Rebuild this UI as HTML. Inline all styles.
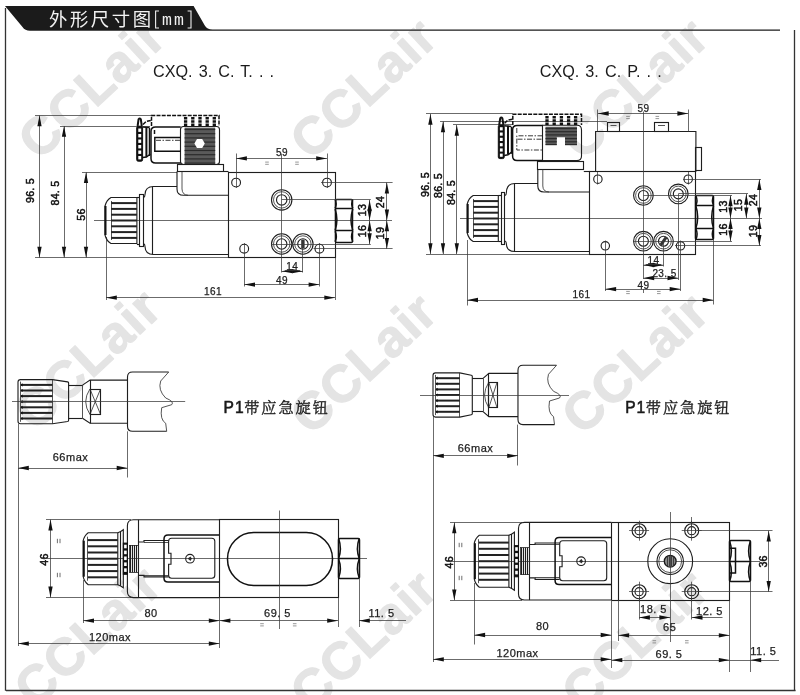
<!DOCTYPE html>
<html lang="zh"><head><meta charset="utf-8"><title>外形尺寸图 [mm]</title>
<style>
html,body{margin:0;padding:0;background:#fff;}
body{width:800px;height:695px;overflow:hidden;font-family:"Liberation Sans",sans-serif;}
svg{display:block;filter:blur(0.35px);}
svg text{font-family:"Liberation Sans",sans-serif;}
.o{fill:none;stroke:#1e1e1e;stroke-width:1.12;}
.k{fill:none;stroke:#111;stroke-width:2;}
.k2{fill:none;stroke:#111;stroke-width:1.5;}
.kk{fill:#111;stroke:#111;stroke-width:1;}
.wf{fill:#fff;stroke:none;}
.sf{fill:#333;stroke:none;}
.n{fill:none;stroke:#2a2a2a;stroke-width:0.8;}
.kt{fill:none;stroke:#222;stroke-width:2;}
.kn{fill:none;stroke:#1a1a1a;stroke-width:1.15;}
.d{fill:none;stroke:#3a3a3a;stroke-width:0.75;}
.e{fill:none;stroke:#4a4a4a;stroke-width:0.8;}
.e2{fill:none;stroke:#6a6a6a;stroke-width:0.7;}
.hf{fill:#8a8a8a;stroke:#1a1a1a;stroke-width:1.3;}
.dd{fill:none;stroke:#222;stroke-width:0.9;stroke-dasharray:5 1.5 1.5 1.5;}
.ds{fill:none;stroke:#111;stroke-width:1.5;stroke-dasharray:4 1.2;}
.rb{fill:none;stroke:#111;stroke-width:3.3;stroke-dasharray:2.4 0.9;}
.gf{fill:#5a5a5a;stroke:none;}
.gl{fill:none;stroke:#2b2b2b;stroke-width:1.2;}
.a{fill:#111;stroke:none;}
.fr{fill:none;stroke:#333;stroke-width:1.3;}
.hd{fill:#1b1b1b;stroke:none;}
.hm{font-family:"Liberation Mono",monospace;font-size:16.5px;fill:#f0f0f0;letter-spacing:2.2px;}
.hb{fill:none;stroke:#eee;stroke-width:1.1;}
.t{font-size:10px;fill:#222;stroke:#222;stroke-width:0.25;letter-spacing:0.4px;}
.tb{font-size:10.6px;fill:#111;stroke:#111;stroke-width:0.5;letter-spacing:0.3px;}
.lb{font-size:16.2px;fill:#1a1a1a;word-spacing:1.6px;}
.p1{font-size:15.6px;fill:#1a1a1a;stroke:#1a1a1a;stroke-width:0.55;letter-spacing:0.9px;}
.t2{font-size:11px;fill:#222;stroke:#222;stroke-width:0.25;letter-spacing:0.5px;}
.wm{font-size:52.2px;font-weight:bold;fill:#e4e4e4;stroke:#e4e4e4;stroke-width:1.1;stroke-linejoin:round;letter-spacing:1px;}
svg text.hz{font-family:"Liberation Sans","Noto Sans CJK SC",sans-serif;font-size:18.4px;fill:#f2f2f2;letter-spacing:2.6px;}
svg text.cz{font-family:"Liberation Serif","Noto Serif CJK SC",serif;font-size:15.2px;fill:#222;stroke:#222;stroke-width:0.35;letter-spacing:1.95px;}
</style></head><body>
<svg width="800" height="695" viewBox="0 0 800 695">
<text class="wm" x="39" y="161.5" transform="rotate(-43 39 161.5)">CCLair</text>
<text class="wm" x="310.9" y="161.5" transform="rotate(-43 310.9 161.5)">CCLair</text>
<text class="wm" x="582.5" y="161.5" transform="rotate(-43 582.5 161.5)">CCLair</text>
<text class="wm" x="35" y="432.4" transform="rotate(-43 35 432.4)">CCLair</text>
<text class="wm" x="310.9" y="436.4" transform="rotate(-43 310.9 436.4)">CCLair</text>
<text class="wm" x="582.5" y="436.4" transform="rotate(-43 582.5 436.4)">CCLair</text>
<text class="wm" x="35" y="709.5" transform="rotate(-43 35 709.5)">CCLair</text>
<text class="wm" x="310.9" y="713.5" transform="rotate(-43 310.9 713.5)">CCLair</text>
<text class="wm" x="582.5" y="713.5" transform="rotate(-43 582.5 713.5)">CCLair</text>
<path class="hd" d="M5,6 L193.6,6 L204.8,25.6 Q207,29.5 212.5,29.5 L780,29.5 L780,30.8 L30,30.8 Q25,30.8 22.5,27 Z"/>
<line class="fr" x1="5.5" y1="8" x2="5.5" y2="690.7"/>
<line class="fr" x1="5.9" y1="690.5" x2="795.6" y2="690.5"/>
<line class="fr" x1="794.5" y1="30" x2="794.5" y2="690.7"/>
<text class="hz" x="48.9" y="25.8">外形尺寸图</text>
<text x="162" y="24.6" class="hm">mm</text>
<path class="hb" d="M159,11 L155.6,11 L155.6,28 L159,28"/>
<path class="hb" d="M187.6,11 L191,11 L191,28 L187.6,28"/>
<text class="lb" x="153" y="76.6">CXQ. 3. C. T. . .</text>
<text class="lb" x="539.7" y="76.6">CXQ. 3. C. P. . .</text>
<text class="p1" x="223.6" y="412.8">P1</text>
<text class="cz" x="244.2" y="413">带应急旋钮</text>
<text class="p1" x="625.2" y="412.8">P1</text>
<text class="cz" x="645.8" y="413">带应急旋钮</text>
<line class="d" x1="35" y1="115.5" x2="152" y2="115.5"/>
<line class="d" x1="60" y1="126.5" x2="150" y2="126.5"/>
<line class="d" x1="82" y1="172.5" x2="177" y2="172.5"/>
<line class="d" x1="35" y1="257.5" x2="228.5" y2="257.5"/>
<line class="d" x1="39.5" y1="115.5" x2="39.5" y2="257.6"/>
<polygon class="a" points="39.5,115.5 37.35,126.3 41.65,126.3"/>
<polygon class="a" points="39.5,257.6 37.35,246.8 41.65,246.8"/>
<line class="d" x1="64.5" y1="126" x2="64.5" y2="257.6"/>
<polygon class="a" points="64,126 61.85,136.8 66.15,136.8"/>
<polygon class="a" points="64,257.6 61.85,246.8 66.15,246.8"/>
<line class="d" x1="86.5" y1="172.3" x2="86.5" y2="257.6"/>
<polygon class="a" points="86,172.3 83.85,183.1 88.15,183.1"/>
<polygon class="a" points="86,257.6 83.85,246.8 88.15,246.8"/>
<text class="tb" x="34" y="190.5" text-anchor="middle" transform="rotate(-90 34 190.5)">96. 5</text>
<text class="tb" x="59" y="193" text-anchor="middle" transform="rotate(-90 59 193)">84. 5</text>
<text class="tb" x="85" y="214.5" text-anchor="middle" transform="rotate(-90 85 214.5)">56</text>
<line class="d" x1="94" y1="220.5" x2="392" y2="220.5"/>
<line class="d" x1="106.5" y1="237" x2="106.5" y2="300"/>
<line class="d" x1="335.5" y1="258" x2="335.5" y2="300"/>
<line class="d" x1="106" y1="297.5" x2="335.1" y2="297.5"/>
<polygon class="a" points="106,297.7 116.8,295.55 116.8,299.85"/>
<polygon class="a" points="335.1,297.7 324.3,295.55 324.3,299.85"/>
<text class="t" x="213" y="294.8" text-anchor="middle">161</text>
<path class="o" d="M111,197.5 L136.9,197.5 L136.9,243.5 L111,243.5 Q106.5,241.0 105,235.0 L105,206.0 Q106.5,200.0 111,197.5 Z"/>
<line class="k" x1="105.5" y1="206" x2="105.5" y2="235"/>
<line class="kt" x1="111" y1="203.1" x2="136.9" y2="203.1"/>
<line class="kt" x1="111" y1="208.9" x2="136.9" y2="208.9"/>
<line class="kt" x1="111" y1="214.7" x2="136.9" y2="214.7"/>
<line class="kt" x1="111" y1="220.5" x2="136.9" y2="220.5"/>
<line class="kt" x1="111" y1="226.3" x2="136.9" y2="226.3"/>
<line class="kt" x1="111" y1="232.1" x2="136.9" y2="232.1"/>
<line class="kt" x1="111" y1="237.9" x2="136.9" y2="237.9"/>
<line class="n" x1="111.5" y1="201" x2="111.5" y2="240"/>
<rect class="o" x="139.5" y="194.5" width="4" height="52"/>
<line class="o" x1="136.9" y1="197.5" x2="139.8" y2="197.5"/>
<line class="o" x1="136.9" y1="244.5" x2="139.8" y2="244.5"/>
<path class="o" d="M143.5,197.5 Q145,197 145,194.5 Q145.2,186.5 153.5,186.5 L177,186.5"/>
<path class="o" d="M143.5,243.5 Q145,244 145,246.5 Q145.2,254.5 153.5,254.5 L228.5,254.5"/>
<line class="o" x1="152.5" y1="186.5" x2="152.5" y2="254.5"/>
<rect class="o" x="177.5" y="164.5" width="46" height="7"/>
<path class="o" d="M177,171.6 L177,189 Q177,195.3 183.5,195.3 L228.5,195.3"/>
<line class="o" x1="223.5" y1="171.5" x2="228.5" y2="171.5"/>
<path class="n" d="M182,171.6 L182,189 Q182.3,195 188,195.3"/>
<rect class="o" x="180.5" y="126.5" width="39" height="38" rx="3"/>
<rect class="gf" x="184.6" y="127.6" width="30.6" height="36.4"/>
<line class="gl" x1="184.6" y1="129.5" x2="215.2" y2="129.5"/>
<line class="gl" x1="184.6" y1="133.7" x2="215.2" y2="133.7"/>
<line class="gl" x1="184.6" y1="137.9" x2="215.2" y2="137.9"/>
<line class="gl" x1="184.6" y1="142.1" x2="215.2" y2="142.1"/>
<line class="gl" x1="184.6" y1="146.3" x2="215.2" y2="146.3"/>
<line class="gl" x1="184.6" y1="150.5" x2="215.2" y2="150.5"/>
<line class="gl" x1="184.6" y1="154.7" x2="215.2" y2="154.7"/>
<line class="gl" x1="184.6" y1="158.9" x2="215.2" y2="158.9"/>
<line class="gl" x1="184.6" y1="163.1" x2="215.2" y2="163.1"/>
<polygon fill="#fff" stroke="none" points="204.8,143.4 202.2,147.9 197.0,147.9 194.4,143.4 197.0,138.9 202.2,138.9"/>
<path class="k2" d="M180.7,126.9 L155.5,126.9 Q151,126.9 151,131.4 L151,158.6 Q151,163.1 155.5,163.1 L180.7,163.1"/>
<path class="k2" d="M180.7,137.5 L154.8,137.5 L154.8,151.3 L180.7,151.3"/>
<line class="dd" x1="156" y1="140.3" x2="180.7" y2="140.3"/>
<line class="k2" x1="154.5" y1="130" x2="154.5" y2="134"/>
<rect class="kk" x="136.7" y="126.2" width="5.9" height="35" rx="1.5"/>
<rect class="wf" x="138.3" y="128.5" width="2.9" height="3.4"/>
<rect class="wf" x="138.3" y="134" width="2.9" height="3.4"/>
<rect class="wf" x="138.3" y="139.5" width="2.9" height="3.4"/>
<rect class="wf" x="138.3" y="145" width="2.9" height="3.4"/>
<rect class="wf" x="138.3" y="150.5" width="2.9" height="3.4"/>
<rect class="wf" x="138.3" y="156" width="2.9" height="3.4"/>
<path class="k" d="M137.6,126 L138.6,119.2 Q139.7,117.6 140.8,119.2 L141.8,126"/>
<line class="k" x1="146.4" y1="127" x2="146.4" y2="156.8"/>
<line class="k2" x1="149.5" y1="128" x2="149.5" y2="156"/>
<path class="k2" d="M142.6,127 L149.6,127.6"/>
<path class="k2" d="M142.6,157.6 L146.4,157 L150.4,154"/>
<path class="ds" d="M143,124.5 L146,121.5 L150.8,120.5"/>
<path class="ds" d="M151.5,126 L151.5,115.4 L219,115.4 L219,126"/>
<line class="rb" x1="185.6" y1="117" x2="185.6" y2="126"/>
<line class="rb" x1="192.8" y1="117" x2="192.8" y2="126"/>
<line class="rb" x1="200" y1="117" x2="200" y2="126"/>
<line class="rb" x1="207.2" y1="117" x2="207.2" y2="126"/>
<line class="rb" x1="214.3" y1="117" x2="214.3" y2="126"/>
<rect class="o" x="228.5" y="172.5" width="107" height="85"/>
<circle class="o" cx="236.1" cy="182.6" r="4.4"/>
<circle class="o" cx="327" cy="182.6" r="4.4"/>
<circle class="o" cx="244.2" cy="248.7" r="4.4"/>
<circle class="o" cx="319.4" cy="248.7" r="4.4"/>
<circle class="o" cx="281.7" cy="199.9" r="10.2"/>
<circle class="n" cx="281.7" cy="199.9" r="8.2"/>
<circle class="o" cx="281.7" cy="199.9" r="5.2"/>
<circle class="o" cx="281.7" cy="244" r="10.2"/>
<circle class="n" cx="281.7" cy="244" r="8.2"/>
<circle class="o" cx="281.7" cy="244" r="5.2"/>
<circle class="o" cx="302.9" cy="244" r="10.2"/>
<circle class="n" cx="302.9" cy="244" r="8.2"/>
<circle class="o" cx="302.9" cy="244" r="5.2"/>
<rect class="sf" x="301.2" y="239.6" width="3.4" height="8.8"/>
<rect class="k2" x="335.5" y="199.5" width="17" height="43" rx="1.2"/>
<line class="k2" x1="335.1" y1="208.5" x2="352.8" y2="208.5"/>
<line class="k2" x1="335.1" y1="230.5" x2="352.8" y2="230.5"/>
<path class="k2" d="M335.1,199.4 Q337.21200000000005,203.89999999999998 335.1,208.39999999999998"/>
<path class="k2" d="M352.8,199.4 Q350.688,203.89999999999998 352.8,208.39999999999998"/>
<path class="k2" d="M335.1,209.0 Q338.70000000000005,219.8 335.1,230.6"/>
<path class="k2" d="M352.8,209.0 Q349.2,219.8 352.8,230.6"/>
<path class="k2" d="M335.1,231.20000000000002 Q337.54200000000003,236.45 335.1,241.7"/>
<path class="k2" d="M352.8,231.20000000000002 Q350.358,236.45 352.8,241.7"/>
<line class="d" x1="321" y1="182.5" x2="392.6" y2="182.5"/>
<line class="d" x1="281.7" y1="199.5" x2="370.8" y2="199.5"/>
<line class="d" x1="271" y1="244.5" x2="370.8" y2="244.5"/>
<line class="d" x1="313.5" y1="248.5" x2="392.6" y2="248.5"/>
<line class="d" x1="386.5" y1="182.6" x2="386.5" y2="220.4"/>
<polygon class="a" points="386.9,182.6 384.75,193.4 389.05,193.4"/>
<polygon class="a" points="386.9,220.4 384.75,209.6 389.05,209.6"/>
<line class="d" x1="386.5" y1="220.4" x2="386.5" y2="248.7"/>
<polygon class="a" points="386.9,220.4 384.75,231.2 389.05,231.2"/>
<polygon class="a" points="386.9,248.7 384.75,237.9 389.05,237.9"/>
<line class="d" x1="369.5" y1="199.9" x2="369.5" y2="220.4"/>
<polygon class="a" points="369.6,199.9 367.45,210.7 371.75,210.7"/>
<polygon class="a" points="369.6,220.4 367.45,209.6 371.75,209.6"/>
<line class="d" x1="369.5" y1="220.4" x2="369.5" y2="244"/>
<polygon class="a" points="369.6,220.4 367.45,231.2 371.75,231.2"/>
<polygon class="a" points="369.6,244 367.45,233.2 371.75,233.2"/>
<text class="tb" x="384" y="202" text-anchor="middle" transform="rotate(-90 384 202)">24</text>
<text class="tb" x="384" y="233" text-anchor="middle" transform="rotate(-90 384 233)">19</text>
<text class="tb" x="365.8" y="210" text-anchor="middle" transform="rotate(-90 365.8 210)">13</text>
<text class="tb" x="365.8" y="231" text-anchor="middle" transform="rotate(-90 365.8 231)">16</text>
<line class="d" x1="281.5" y1="153.8" x2="281.5" y2="272.5"/>
<line class="d" x1="302.5" y1="244" x2="302.5" y2="272.5"/>
<line class="d" x1="281.7" y1="271.5" x2="302.9" y2="271.5"/>
<polygon class="a" points="281.7,271.2 292.5,269.05 292.5,273.35"/>
<polygon class="a" points="302.9,271.2 292.1,269.05 292.1,273.35"/>
<text class="t" x="292.3" y="269.8" text-anchor="middle">14</text>
<line class="d" x1="285" y1="270.5" x2="300" y2="270.5"/>
<line class="d" x1="244.5" y1="243" x2="244.5" y2="286.5"/>
<line class="d" x1="319.5" y1="243" x2="319.5" y2="286.5"/>
<line class="d" x1="244.2" y1="284.5" x2="319.4" y2="284.5"/>
<polygon class="a" points="244.2,284.6 255,282.45 255,286.75"/>
<polygon class="a" points="319.4,284.6 308.6,282.45 308.6,286.75"/>
<text class="t" x="282" y="283.8" text-anchor="middle">49</text>
<line class="d" x1="236.5" y1="153.5" x2="236.5" y2="188"/>
<line class="d" x1="327.5" y1="153.5" x2="327.5" y2="188"/>
<line class="d" x1="236.1" y1="158.5" x2="327" y2="158.5"/>
<polygon class="a" points="236.1,158.4 246.9,156.25 246.9,160.55"/>
<polygon class="a" points="327,158.4 316.2,156.25 316.2,160.55"/>
<text class="t" x="282" y="156.3" text-anchor="middle">59</text>
<line class="e2" x1="265.2" y1="162.1" x2="268.8" y2="162.1"/>
<line class="e2" x1="265.2" y1="164.3" x2="268.8" y2="164.3"/>
<line class="e2" x1="295.2" y1="162.1" x2="298.8" y2="162.1"/>
<line class="e2" x1="295.2" y1="164.3" x2="298.8" y2="164.3"/>
<line class="d" x1="426" y1="113.5" x2="512.5" y2="113.5"/>
<line class="d" x1="440" y1="121.5" x2="607" y2="121.5"/>
<line class="d" x1="453" y1="124.5" x2="512" y2="124.5"/>
<line class="d" x1="426" y1="254.5" x2="590" y2="254.5"/>
<line class="d" x1="430.5" y1="113.9" x2="430.5" y2="254"/>
<polygon class="a" points="430.4,113.9 428.25,124.7 432.55,124.7"/>
<polygon class="a" points="430.4,254 428.25,243.2 432.55,243.2"/>
<line class="d" x1="443.5" y1="121.5" x2="443.5" y2="254"/>
<polygon class="a" points="443,121.5 440.85,132.3 445.15,132.3"/>
<polygon class="a" points="443,254 440.85,243.2 445.15,243.2"/>
<line class="d" x1="456.5" y1="124.9" x2="456.5" y2="254"/>
<polygon class="a" points="456.8,124.9 454.65,135.7 458.95,135.7"/>
<polygon class="a" points="456.8,254 454.65,243.2 458.95,243.2"/>
<text class="tb" x="428.5" y="184.5" text-anchor="middle" transform="rotate(-90 428.5 184.5)">96. 5</text>
<text class="tb" x="442" y="185.5" text-anchor="middle" transform="rotate(-90 442 185.5)">86. 5</text>
<text class="tb" x="455.3" y="192.5" text-anchor="middle" transform="rotate(-90 455.3 192.5)">84. 5</text>
<line class="d" x1="460" y1="218.5" x2="762" y2="218.5"/>
<line class="d" x1="467.5" y1="240" x2="467.5" y2="305.5"/>
<line class="d" x1="713.5" y1="240" x2="713.5" y2="304.5"/>
<line class="d" x1="467.2" y1="300.5" x2="713.5" y2="300.5"/>
<polygon class="a" points="467.2,300 478,297.85 478,302.15"/>
<polygon class="a" points="713.5,300 702.7,297.85 702.7,302.15"/>
<text class="t" x="581.5" y="297.5" text-anchor="middle">161</text>
<path class="o" d="M473.2,195.5 L498.3,195.5 L498.3,241.5 L473.2,241.5 Q468.7,239.0 467.2,233.0 L467.2,204.0 Q468.7,198.0 473.2,195.5 Z"/>
<line class="k" x1="467.7" y1="204" x2="467.7" y2="233"/>
<line class="kt" x1="473.2" y1="201.1" x2="498.3" y2="201.1"/>
<line class="kt" x1="473.2" y1="206.9" x2="498.3" y2="206.9"/>
<line class="kt" x1="473.2" y1="212.7" x2="498.3" y2="212.7"/>
<line class="kt" x1="473.2" y1="218.5" x2="498.3" y2="218.5"/>
<line class="kt" x1="473.2" y1="224.3" x2="498.3" y2="224.3"/>
<line class="kt" x1="473.2" y1="230.1" x2="498.3" y2="230.1"/>
<line class="kt" x1="473.2" y1="235.9" x2="498.3" y2="235.9"/>
<line class="n" x1="473.5" y1="199" x2="473.5" y2="238"/>
<rect class="o" x="501.5" y="192.5" width="3" height="52"/>
<line class="o" x1="498.3" y1="195.5" x2="501.2" y2="195.5"/>
<line class="o" x1="498.3" y1="241.5" x2="501.2" y2="241.5"/>
<path class="o" d="M504.9,195.5 Q506.4,195 506.4,192.5 Q506.6,183.5 514.8,183.5 L538,183.5"/>
<path class="o" d="M504.9,241 Q506.4,241.5 506.4,244 Q506.6,251.5 514.8,251.5 L589.9,251.5"/>
<line class="o" x1="514.5" y1="183.5" x2="514.5" y2="251.5"/>
<rect class="o" x="537.5" y="161.5" width="46" height="8"/>
<path class="o" d="M537.8,169.6 L537.8,186 Q537.8,192 544,192 L589.9,192"/>
<line class="o" x1="583.8" y1="171.5" x2="589.9" y2="171.5"/>
<path class="n" d="M542.8,169.6 L542.8,186 Q543,191.8 549,192"/>
<path class="o" d="M542.5,125.3 L577,125.3 Q581.5,125.3 581.5,130 L581.5,156 Q581.5,160.6 577,160.6 L542.5,160.6 Z"/>
<path class="gf" d="M545.5,126.8 L577,126.8 L577,144.8 L565,144.8 L565,137.3 L556.8,137.3 L556.8,144.8 L545.5,144.8 Z"/>
<line class="gl" x1="545.5" y1="128.5" x2="577" y2="128.5"/>
<line class="gl" x1="545.5" y1="131.7" x2="577" y2="131.7"/>
<line class="gl" x1="545.5" y1="134.9" x2="577" y2="134.9"/>
<line class="gl" x1="545.5" y1="138.6" x2="556.8" y2="138.6"/>
<line class="gl" x1="565" y1="138.6" x2="577" y2="138.6"/>
<line class="gl" x1="545.5" y1="141.8" x2="556.8" y2="141.8"/>
<line class="gl" x1="565" y1="141.8" x2="577" y2="141.8"/>
<line class="gl" x1="545.5" y1="144.6" x2="556.8" y2="144.6"/>
<line class="gl" x1="565" y1="144.6" x2="577" y2="144.6"/>
<path class="k2" d="M542.5,125.6 L517,125.6 Q512.6,125.6 512.6,130 L512.6,156 Q512.6,160.5 517,160.5 L542.5,160.5"/>
<path class="dd" d="M542.5,135.8 L516.8,135.8 L516.8,150 L542.5,150"/>
<line class="dd" x1="517.5" y1="139.2" x2="542.5" y2="139.2"/>
<line class="dd" x1="516.8" y1="128" x2="516.8" y2="134"/>
<rect class="kk" x="498.3" y="125" width="5.9" height="33.6" rx="1.5"/>
<rect class="wf" x="499.9" y="127.2" width="2.8" height="3.2"/>
<rect class="wf" x="499.9" y="132.5" width="2.8" height="3.2"/>
<rect class="wf" x="499.9" y="137.8" width="2.8" height="3.2"/>
<rect class="wf" x="499.9" y="143.1" width="2.8" height="3.2"/>
<rect class="wf" x="499.9" y="148.4" width="2.8" height="3.2"/>
<rect class="wf" x="499.9" y="153.6" width="2.8" height="3.2"/>
<path class="k" d="M499.2,124.8 L500.2,118.3 Q501.3,116.8 502.4,118.3 L503.4,124.8"/>
<line class="k" x1="508" y1="125.8" x2="508" y2="154.6"/>
<line class="k2" x1="511.5" y1="126.8" x2="511.5" y2="153.8"/>
<path class="k2" d="M504.2,125.8 L511.2,126.4"/>
<path class="k2" d="M504.2,155.4 L508,154.8 L512,151.8"/>
<path class="ds" d="M504.6,123.3 L507.6,120.3 L512.4,119.3"/>
<path class="ds" d="M512.8,125 L512.8,114.3 L581.5,114.3 L581.5,125"/>
<line class="rb" x1="547" y1="116" x2="547" y2="125"/>
<line class="rb" x1="554.2" y1="116" x2="554.2" y2="125"/>
<line class="rb" x1="561.4" y1="116" x2="561.4" y2="125"/>
<line class="rb" x1="568.6" y1="116" x2="568.6" y2="125"/>
<line class="rb" x1="575.6" y1="116" x2="575.6" y2="125"/>
<path class="o" d="M595.6,171.7 L595.6,131.5 L695.9,131.5 L695.9,171.7"/>
<rect class="o" x="607.5" y="122.5" width="12" height="9"/>
<rect class="o" x="654.5" y="122.5" width="14" height="9"/>
<line class="n" x1="610.5" y1="125.5" x2="616.5" y2="125.5"/>
<line class="n" x1="658" y1="125.5" x2="665" y2="125.5"/>
<rect class="o" x="695.5" y="147.5" width="6" height="23"/>
<rect class="o" x="589.5" y="171.5" width="106" height="83"/>
<circle class="o" cx="597.9" cy="179.2" r="4.2"/>
<circle class="o" cx="688.2" cy="179.2" r="4.2"/>
<circle class="o" cx="605.3" cy="245.8" r="4.2"/>
<circle class="o" cx="680.5" cy="245.8" r="4.2"/>
<circle class="o" cx="643.4" cy="195.5" r="9.8"/>
<circle class="n" cx="643.4" cy="195.5" r="7.8"/>
<circle class="o" cx="643.4" cy="195.5" r="5"/>
<circle class="o" cx="678.3" cy="193.9" r="9.8"/>
<circle class="n" cx="678.3" cy="193.9" r="7.8"/>
<circle class="o" cx="678.3" cy="193.9" r="5"/>
<circle class="o" cx="643.4" cy="241.2" r="9.8"/>
<circle class="n" cx="643.4" cy="241.2" r="7.8"/>
<circle class="o" cx="643.4" cy="241.2" r="5"/>
<circle class="o" cx="663.5" cy="241.2" r="9.8"/>
<circle class="n" cx="663.5" cy="241.2" r="7.8"/>
<circle class="o" cx="663.5" cy="241.2" r="5"/>
<g transform="rotate(35 663.5 241.2)">
<rect class="sf" x="662" y="236.6" width="3" height="9.2"/>
</g>
<rect class="k2" x="695.5" y="195.5" width="18" height="44" rx="1.2"/>
<line class="k2" x1="695.9" y1="205.5" x2="713.5" y2="205.5"/>
<line class="k2" x1="695.9" y1="228.5" x2="713.5" y2="228.5"/>
<path class="k2" d="M695.9,196.10000000000002 Q698.0559999999999,200.7 695.9,205.29999999999998"/>
<path class="k2" d="M713.5,196.10000000000002 Q711.344,200.7 713.5,205.29999999999998"/>
<path class="k2" d="M695.9,205.9 Q699.5,217.1 695.9,228.29999999999998"/>
<path class="k2" d="M713.5,205.9 Q709.9,217.1 713.5,228.29999999999998"/>
<path class="k2" d="M695.9,228.9 Q698.3199999999999,234.1 695.9,239.29999999999998"/>
<path class="k2" d="M713.5,228.9 Q711.08,234.1 713.5,239.29999999999998"/>
<line class="d" x1="683" y1="179.5" x2="761" y2="179.5"/>
<line class="d" x1="678.3" y1="193.5" x2="748" y2="193.5"/>
<line class="d" x1="643.4" y1="195.5" x2="732" y2="195.5"/>
<line class="d" x1="634" y1="241.5" x2="732" y2="241.5"/>
<line class="d" x1="675" y1="245.5" x2="761" y2="245.5"/>
<line class="d" x1="759.5" y1="179.2" x2="759.5" y2="218.2"/>
<polygon class="a" points="759.3,179.2 757.15,190 761.45,190"/>
<polygon class="a" points="759.3,218.2 757.15,207.4 761.45,207.4"/>
<line class="d" x1="759.5" y1="218.2" x2="759.5" y2="245.8"/>
<polygon class="a" points="759.3,218.2 757.15,229 761.45,229"/>
<polygon class="a" points="759.3,245.8 757.15,235 761.45,235"/>
<line class="d" x1="746.5" y1="193.9" x2="746.5" y2="218.2"/>
<polygon class="a" points="746.3,193.9 744.15,204.7 748.45,204.7"/>
<polygon class="a" points="746.3,218.2 744.15,207.4 748.45,207.4"/>
<line class="d" x1="730.5" y1="195.5" x2="730.5" y2="218.2"/>
<polygon class="a" points="730.5,195.5 728.35,206.3 732.65,206.3"/>
<polygon class="a" points="730.5,218.2 728.35,207.4 732.65,207.4"/>
<line class="d" x1="730.5" y1="218.2" x2="730.5" y2="241.2"/>
<polygon class="a" points="730.5,218.2 728.35,229 732.65,229"/>
<polygon class="a" points="730.5,241.2 728.35,230.4 732.65,230.4"/>
<text class="tb" x="757" y="200" text-anchor="middle" transform="rotate(-90 757 200)">24</text>
<text class="tb" x="757" y="231" text-anchor="middle" transform="rotate(-90 757 231)">19</text>
<text class="tb" x="742" y="205" text-anchor="middle" transform="rotate(-90 742 205)">15</text>
<text class="tb" x="726.5" y="206.5" text-anchor="middle" transform="rotate(-90 726.5 206.5)">13</text>
<text class="tb" x="726.5" y="229.5" text-anchor="middle" transform="rotate(-90 726.5 229.5)">16</text>
<line class="d" x1="643.5" y1="111.5" x2="643.5" y2="279"/>
<line class="d" x1="643.5" y1="289" x2="643.5" y2="293"/>
<line class="d" x1="663.5" y1="241.2" x2="663.5" y2="266.5"/>
<line class="d" x1="678.5" y1="193.9" x2="678.5" y2="280"/>
<line class="d" x1="643.4" y1="265.5" x2="663.5" y2="265.5"/>
<polygon class="a" points="643.4,265 654.2,262.85 654.2,267.15"/>
<polygon class="a" points="663.5,265 652.7,262.85 652.7,267.15"/>
<text class="t" x="653.5" y="264.3" text-anchor="middle">14</text>
<line class="d" x1="646" y1="264.5" x2="661" y2="264.5"/>
<line class="d" x1="643.4" y1="278.5" x2="678.3" y2="278.5"/>
<polygon class="a" points="643.4,278 654.2,275.85 654.2,280.15"/>
<polygon class="a" points="678.3,278 667.5,275.85 667.5,280.15"/>
<text class="t" x="664.5" y="277.3" text-anchor="middle">23. 5</text>
<line class="d" x1="605.5" y1="240.5" x2="605.5" y2="291"/>
<line class="d" x1="680.5" y1="240.5" x2="680.5" y2="291"/>
<line class="d" x1="605.3" y1="289.5" x2="680.5" y2="289.5"/>
<polygon class="a" points="605.3,289.1 616.1,286.95 616.1,291.25"/>
<polygon class="a" points="680.5,289.1 669.7,286.95 669.7,291.25"/>
<text class="t" x="643.4" y="288.8" text-anchor="middle">49</text>
<line class="d" x1="597.5" y1="109.5" x2="597.5" y2="131.5"/>
<line class="d" x1="688.5" y1="109.5" x2="688.5" y2="131.5"/>
<line class="d" x1="597.5" y1="172" x2="597.5" y2="184.5"/>
<line class="d" x1="688.5" y1="172" x2="688.5" y2="184.5"/>
<line class="d" x1="597.9" y1="113.5" x2="688.2" y2="113.5"/>
<polygon class="a" points="597.9,113.5 608.7,111.35 608.7,115.65"/>
<polygon class="a" points="688.2,113.5 677.4,111.35 677.4,115.65"/>
<text class="t" x="643.4" y="111.8" text-anchor="middle">59</text>
<line class="e2" x1="626.2" y1="116.4" x2="629.8" y2="116.4"/>
<line class="e2" x1="626.2" y1="118.6" x2="629.8" y2="118.6"/>
<line class="e2" x1="655.5" y1="116.4" x2="659.1" y2="116.4"/>
<line class="e2" x1="655.5" y1="118.6" x2="659.1" y2="118.6"/>
<line class="e2" x1="626.2" y1="291.4" x2="629.8" y2="291.4"/>
<line class="e2" x1="626.2" y1="293.6" x2="629.8" y2="293.6"/>
<line class="e2" x1="657" y1="291.4" x2="660.6" y2="291.4"/>
<line class="e2" x1="657" y1="293.6" x2="660.6" y2="293.6"/>
<path class="o" d="M20.5,379.59999999999997 L52.5,379.59999999999997 L67.6,381.9 Q68.6,382.09999999999997 68.6,383.09999999999997 L68.6,420.3 Q68.6,421.3 67.6,421.5 L52.5,423.8 L20.5,423.8 Q18,423.8 18,421.3 L18,382.09999999999997 Q18,379.59999999999997 20.5,379.59999999999997 Z"/>
<line class="n" x1="52.5" y1="379.6" x2="52.5" y2="423.8"/>
<line class="kt" x1="21" y1="384.9" x2="52.5" y2="384.9"/>
<polygon class="a" points="20.2,384.9 22.6,383.3 22.6,386.5"/>
<line class="kt" x1="21" y1="390.5" x2="52.5" y2="390.5"/>
<polygon class="a" points="20.2,390.5 22.6,388.9 22.6,392.1"/>
<line class="kt" x1="21" y1="396.1" x2="52.5" y2="396.1"/>
<polygon class="a" points="20.2,396.1 22.6,394.5 22.6,397.7"/>
<line class="kt" x1="21" y1="401.7" x2="52.5" y2="401.7"/>
<polygon class="a" points="20.2,401.7 22.6,400.1 22.6,403.3"/>
<line class="kt" x1="21" y1="407.3" x2="52.5" y2="407.3"/>
<polygon class="a" points="20.2,407.3 22.6,405.7 22.6,408.9"/>
<line class="kt" x1="21" y1="412.9" x2="52.5" y2="412.9"/>
<polygon class="a" points="20.2,412.9 22.6,411.3 22.6,414.5"/>
<line class="kt" x1="21" y1="418.5" x2="52.5" y2="418.5"/>
<polygon class="a" points="20.2,418.5 22.6,416.9 22.6,420.1"/>
<line class="n" x1="20.5" y1="381.6" x2="20.5" y2="421.8"/>
<line class="o" x1="68.6" y1="385.5" x2="82.5" y2="385.5"/>
<line class="o" x1="68.6" y1="418.5" x2="82.5" y2="418.5"/>
<line class="n" x1="82.5" y1="385.1" x2="82.5" y2="418.3"/>
<path class="o" d="M82.5,385.09999999999997 L90.0,380.09999999999997 L127.5,380.09999999999997"/>
<path class="o" d="M82.5,418.3 L90.0,423.3 L127.5,423.3"/>
<line class="o" x1="90.5" y1="380.1" x2="90.5" y2="423.3"/>
<path class="n" d="M90.0,388.9 Q81.4,401.7 90.0,414.5"/>
<rect class="o" x="90.5" y="389.5" width="10" height="25"/>
<line class="n" x1="90" y1="389.1" x2="100.5" y2="414.3"/>
<line class="n" x1="90" y1="414.3" x2="100.5" y2="389.1"/>
<path class="o" d="M168.7,372.0 L132.5,372.0 Q127.5,372.0 127.5,377.0 L127.5,426.3 Q127.5,431.3 132.5,431.3 L166.7,431.3"/>
<path class="n" d="M168.7,372.0 L160.7,381.0 Q157.7,390.0 165.7,398.0 Q174.7,401.7 171.7,404.7 L161.7,407.7 Q159.7,419.7 165.7,423.3 L166.7,431.3"/>
<line class="d" x1="12" y1="401.5" x2="185.2" y2="401.5"/>
<line class="d" x1="127.5" y1="431.3" x2="127.5" y2="477.5"/>
<line class="d" x1="18" y1="468.5" x2="127.5" y2="468.5"/>
<polygon class="a" points="18,468 28.8,465.85 28.8,470.15"/>
<polygon class="a" points="127.5,468 116.7,465.85 116.7,470.15"/>
<text class="t2" x="70.5" y="461" text-anchor="middle">66max</text>
<line class="d" x1="18.5" y1="424" x2="18.5" y2="646"/>
<path class="o" d="M435.5,372.9 L459.772,372.9 L471.3,375.2 Q472.3,375.4 472.3,376.4 L472.3,413.6 Q472.3,414.6 471.3,414.8 L459.772,417.1 L435.5,417.1 Q433,417.1 433,414.6 L433,375.4 Q433,372.9 435.5,372.9 Z"/>
<line class="n" x1="459.5" y1="372.9" x2="459.5" y2="417.1"/>
<line class="kt" x1="436" y1="378.2" x2="459.772" y2="378.2"/>
<polygon class="a" points="435.2,378.2 437.6,376.6 437.6,379.8"/>
<line class="kt" x1="436" y1="383.8" x2="459.772" y2="383.8"/>
<polygon class="a" points="435.2,383.8 437.6,382.2 437.6,385.4"/>
<line class="kt" x1="436" y1="389.4" x2="459.772" y2="389.4"/>
<polygon class="a" points="435.2,389.4 437.6,387.8 437.6,391"/>
<line class="kt" x1="436" y1="395" x2="459.772" y2="395"/>
<polygon class="a" points="435.2,395 437.6,393.4 437.6,396.6"/>
<line class="kt" x1="436" y1="400.6" x2="459.772" y2="400.6"/>
<polygon class="a" points="435.2,400.6 437.6,399 437.6,402.2"/>
<line class="kt" x1="436" y1="406.2" x2="459.772" y2="406.2"/>
<polygon class="a" points="435.2,406.2 437.6,404.6 437.6,407.8"/>
<line class="kt" x1="436" y1="411.8" x2="459.772" y2="411.8"/>
<polygon class="a" points="435.2,411.8 437.6,410.2 437.6,413.4"/>
<line class="n" x1="435.5" y1="374.9" x2="435.5" y2="415.1"/>
<line class="o" x1="472.3" y1="378.5" x2="483.052" y2="378.5"/>
<line class="o" x1="472.3" y1="411.5" x2="483.052" y2="411.5"/>
<line class="n" x1="483.5" y1="378.4" x2="483.5" y2="411.6"/>
<path class="o" d="M483.052,378.4 L488.872,373.4 L517.972,373.4"/>
<path class="o" d="M483.052,411.6 L488.872,416.6 L517.972,416.6"/>
<line class="o" x1="488.5" y1="373.4" x2="488.5" y2="416.6"/>
<path class="n" d="M488.872,382.2 Q480.272,395 488.872,407.8"/>
<rect class="o" x="488.5" y="382.5" width="9" height="25"/>
<line class="n" x1="488.872" y1="382.4" x2="497.02" y2="407.6"/>
<line class="n" x1="488.872" y1="407.6" x2="497.02" y2="382.4"/>
<path class="o" d="M556.5,365.3 L522.972,365.3 Q517.972,365.3 517.972,370.3 L517.972,419.6 Q517.972,424.6 522.972,424.6 L554.5,424.6"/>
<path class="n" d="M556.5,365.3 L548.5,374.3 Q545.5,383.3 553.5,391.3 Q562.5,395 559.5,398 L549.5,401 Q547.5,413 553.5,416.6 L554.5,424.6"/>
<line class="d" x1="420" y1="395.5" x2="569" y2="395.5"/>
<line class="d" x1="517.5" y1="424.6" x2="517.5" y2="465.5"/>
<line class="d" x1="433" y1="455.5" x2="517.972" y2="455.5"/>
<polygon class="a" points="433,455.8 443.8,453.65 443.8,457.95"/>
<polygon class="a" points="517.972,455.8 507.172,453.65 507.172,457.95"/>
<text class="t2" x="475.5" y="452.3" text-anchor="middle">66max</text>
<line class="d" x1="46" y1="519.5" x2="131" y2="519.5"/>
<line class="d" x1="46" y1="597.5" x2="131" y2="597.5"/>
<line class="d" x1="50.5" y1="519.6" x2="50.5" y2="597.4"/>
<polygon class="a" points="50.5,519.6 48.35,530.4 52.65,530.4"/>
<polygon class="a" points="50.5,597.4 48.35,586.6 52.65,586.6"/>
<text class="tb" x="47.5" y="559.5" text-anchor="middle" transform="rotate(-90 47.5 559.5)">46</text>
<line class="e" x1="57.4" y1="538.8" x2="57.4" y2="543.2"/>
<line class="e" x1="60" y1="538.8" x2="60" y2="543.2"/>
<line class="e" x1="57.4" y1="572.8" x2="57.4" y2="577.2"/>
<line class="e" x1="60" y1="572.8" x2="60" y2="577.2"/>
<line class="d" x1="42.5" y1="558.5" x2="367" y2="558.5"/>
<path class="o" d="M88.2,532.7 L117.80000000000001,532.7 L117.80000000000001,584.7 L88.2,584.7 Q84.2,581.7 83.2,576.7 L83.2,540.7 Q84.2,535.7 88.2,532.7 Z"/>
<line class="k" x1="83.8" y1="540.7" x2="83.8" y2="576.7"/>
<line class="kt" x1="87.7" y1="540.1" x2="117.8" y2="540.1"/>
<line class="kt" x1="87.7" y1="546.3" x2="117.8" y2="546.3"/>
<line class="kt" x1="87.7" y1="552.5" x2="117.8" y2="552.5"/>
<line class="kt" x1="87.7" y1="558.7" x2="117.8" y2="558.7"/>
<line class="kt" x1="87.7" y1="564.9" x2="117.8" y2="564.9"/>
<line class="kt" x1="87.7" y1="571.1" x2="117.8" y2="571.1"/>
<line class="kt" x1="87.7" y1="577.3" x2="117.8" y2="577.3"/>
<line class="n" x1="87.5" y1="536.7" x2="87.5" y2="580.7"/>
<path class="o" d="M117.80000000000001,532.7 Q120.80000000000001,531.7 123.30000000000001,529.7 L123.30000000000001,587.7 Q120.80000000000001,585.7 117.80000000000001,584.7"/>
<line class="o" x1="120.5" y1="531.5" x2="120.5" y2="585.9"/>
<path class="o" d="M219.6,519.8000000000001 L133.4,519.8000000000001 Q127.4,519.8000000000001 127.4,525.8000000000001 L127.4,591.6 Q127.4,597.6 133.4,597.6 L219.6,597.6"/>
<line class="o" x1="138.5" y1="519.8" x2="138.5" y2="597.6"/>
<rect class="kk" x="123.3" y="543.1" width="4.1" height="31.2"/>
<rect class="wf" x="124.1" y="544.7" width="2.6" height="3.6"/>
<rect class="wf" x="124.1" y="550.6" width="2.6" height="3.6"/>
<rect class="wf" x="124.1" y="556.5" width="2.6" height="3.6"/>
<rect class="wf" x="124.1" y="562.4" width="2.6" height="3.6"/>
<rect class="wf" x="124.1" y="568.3" width="2.6" height="3.6"/>
<rect class="n" x="129.5" y="545.5" width="9" height="27"/>
<line class="o" x1="130.5" y1="545.1" x2="130.5" y2="572.3"/>
<line class="o" x1="132.5" y1="545.1" x2="132.5" y2="572.3"/>
<line class="o" x1="134.5" y1="545.1" x2="134.5" y2="572.3"/>
<line class="o" x1="136.5" y1="545.1" x2="136.5" y2="572.3"/>
<path class="o" d="M138.0,542.0 L144.0,542.0 L144.0,540.5 L168.5,540.5"/>
<line class="n" x1="144" y1="542.5" x2="168.5" y2="542.5"/>
<path class="o" d="M138.0,575.4000000000001 L144.0,575.4000000000001 L144.0,576.9000000000001 L168.5,576.9000000000001"/>
<line class="n" x1="144" y1="575.5" x2="168.5" y2="575.5"/>
<path class="k2" d="M219.1,535.1 L168.0,535.1 Q164.0,535.1 164.0,539.1 L164.0,578.3000000000001 Q164.0,582.1 168.0,582.1 L219.1,582.1"/>
<path class="o" d="M171.6,538.3000000000001 L211.79999999999998,538.3000000000001 Q214.79999999999998,538.3000000000001 214.79999999999998,541.3000000000001 L214.79999999999998,575.3000000000001 Q214.79999999999998,578.3000000000001 211.79999999999998,578.3000000000001 L171.6,578.3000000000001 Q168.6,578.3000000000001 168.6,575.3000000000001 L168.6,564.2 L171.0,564.2 L171.0,553.2 L168.6,553.2 L168.6,541.3000000000001 Q168.6,538.3000000000001 171.6,538.3000000000001 Z"/>
<circle class="o" cx="190" cy="558.7" r="4.3"/>
<circle class="sf" cx="190" cy="558.7" r="1.6"/>
<line class="n" x1="188" y1="558.5" x2="192" y2="558.5"/>
<line class="n" x1="190.5" y1="556.7" x2="190.5" y2="560.7"/>
<rect class="o" x="219.5" y="519.5" width="119" height="78"/>
<rect class="k2" x="227.5" y="532.5" width="105" height="53" rx="26.2"/>
<line class="d" x1="279.5" y1="510.5" x2="279.5" y2="629"/>
<rect class="k2" x="338.5" y="538.5" width="21" height="40" rx="1.2"/>
<line class="k2" x1="338.6" y1="558.5" x2="359.2" y2="558.5"/>
<path class="k2" d="M338.6,538.4 Q342.20000000000005,548.45 338.6,558.5"/>
<path class="k2" d="M359.2,538.4 Q355.59999999999997,548.45 359.2,558.5"/>
<path class="k2" d="M338.6,559.0999999999999 Q342.20000000000005,568.5999999999999 338.6,578.1"/>
<path class="k2" d="M359.2,559.0999999999999 Q355.59999999999997,568.5999999999999 359.2,578.1"/>
<line class="d" x1="83.5" y1="580" x2="83.5" y2="623"/>
<line class="d" x1="219.5" y1="597.4" x2="219.5" y2="648"/>
<line class="d" x1="338.5" y1="597.4" x2="338.5" y2="627"/>
<line class="d" x1="359.5" y1="578.8" x2="359.5" y2="627"/>
<line class="d" x1="83.2" y1="620.5" x2="219.6" y2="620.5"/>
<polygon class="a" points="83.2,620.7 94,618.55 94,622.85"/>
<polygon class="a" points="219.6,620.7 208.8,618.55 208.8,622.85"/>
<text class="t2" x="151" y="616.5" text-anchor="middle">80</text>
<line class="d" x1="219.6" y1="620.5" x2="338" y2="620.5"/>
<polygon class="a" points="219.6,620.7 230.4,618.55 230.4,622.85"/>
<polygon class="a" points="338,620.7 327.2,618.55 327.2,622.85"/>
<text class="t2" x="277.5" y="617.2" text-anchor="middle">69. 5</text>
<line class="d" x1="359" y1="620.5" x2="406" y2="620.5"/>
<polygon class="a" points="359,620.7 369.8,618.55 369.8,622.85"/>
<text class="t2" x="381.5" y="616.8" text-anchor="middle">11. 5</text>
<line class="d" x1="18" y1="643.5" x2="219.6" y2="643.5"/>
<polygon class="a" points="18,643.6 28.8,641.45 28.8,645.75"/>
<polygon class="a" points="219.6,643.6 208.8,641.45 208.8,645.75"/>
<text class="t2" x="110" y="641.3" text-anchor="middle">120max</text>
<line class="e2" x1="260.2" y1="623.7" x2="263.8" y2="623.7"/>
<line class="e2" x1="260.2" y1="625.9" x2="263.8" y2="625.9"/>
<line class="e2" x1="292.9" y1="623.7" x2="296.5" y2="623.7"/>
<line class="e2" x1="292.9" y1="625.9" x2="296.5" y2="625.9"/>
<line class="d" x1="450" y1="522.5" x2="522" y2="522.5"/>
<line class="d" x1="450" y1="600.5" x2="522" y2="600.5"/>
<line class="d" x1="454.5" y1="522.5" x2="454.5" y2="600.2"/>
<polygon class="a" points="454.3,522.5 452.15,533.3 456.45,533.3"/>
<polygon class="a" points="454.3,600.2 452.15,589.4 456.45,589.4"/>
<text class="tb" x="452.6" y="562.3" text-anchor="middle" transform="rotate(-90 452.6 562.3)">46</text>
<line class="e" x1="459.2" y1="542.8" x2="459.2" y2="547.2"/>
<line class="e" x1="461.8" y1="542.8" x2="461.8" y2="547.2"/>
<line class="e" x1="459.2" y1="575.8" x2="459.2" y2="580.2"/>
<line class="e" x1="461.8" y1="575.8" x2="461.8" y2="580.2"/>
<line class="d" x1="447.5" y1="561.5" x2="760" y2="561.5"/>
<path class="o" d="M479.3,535.2 L508.90000000000003,535.2 L508.90000000000003,587.2 L479.3,587.2 Q475.3,584.2 474.3,579.2 L474.3,543.2 Q475.3,538.2 479.3,535.2 Z"/>
<line class="k" x1="474.9" y1="543.2" x2="474.9" y2="579.2"/>
<line class="kt" x1="478.8" y1="542.6" x2="508.9" y2="542.6"/>
<line class="kt" x1="478.8" y1="548.8" x2="508.9" y2="548.8"/>
<line class="kt" x1="478.8" y1="555" x2="508.9" y2="555"/>
<line class="kt" x1="478.8" y1="561.2" x2="508.9" y2="561.2"/>
<line class="kt" x1="478.8" y1="567.4" x2="508.9" y2="567.4"/>
<line class="kt" x1="478.8" y1="573.6" x2="508.9" y2="573.6"/>
<line class="kt" x1="478.8" y1="579.8" x2="508.9" y2="579.8"/>
<line class="n" x1="478.5" y1="539.2" x2="478.5" y2="583.2"/>
<path class="o" d="M508.90000000000003,535.2 Q511.90000000000003,534.2 514.4000000000001,532.2 L514.4000000000001,590.2 Q511.90000000000003,588.2 508.90000000000003,587.2"/>
<line class="o" x1="511.5" y1="534" x2="511.5" y2="588.4"/>
<path class="o" d="M611.5,522.35 L524.5,522.35 Q518.5,522.35 518.5,528.35 L518.5,594.0500000000001 Q518.5,600.0500000000001 524.5,600.0500000000001 L611.5,600.0500000000001"/>
<line class="o" x1="529.5" y1="522.35" x2="529.5" y2="600.05"/>
<rect class="kk" x="514.4" y="545.6" width="4.1" height="31.2"/>
<rect class="wf" x="515.2" y="547.2" width="2.6" height="3.6"/>
<rect class="wf" x="515.2" y="553.1" width="2.6" height="3.6"/>
<rect class="wf" x="515.2" y="559" width="2.6" height="3.6"/>
<rect class="wf" x="515.2" y="564.9" width="2.6" height="3.6"/>
<rect class="wf" x="515.2" y="570.8" width="2.6" height="3.6"/>
<rect class="n" x="520.5" y="547.5" width="9" height="27"/>
<line class="o" x1="521.5" y1="547.6" x2="521.5" y2="574.8"/>
<line class="o" x1="523.5" y1="547.6" x2="523.5" y2="574.8"/>
<line class="o" x1="525.5" y1="547.6" x2="525.5" y2="574.8"/>
<line class="o" x1="527.5" y1="547.6" x2="527.5" y2="574.8"/>
<path class="o" d="M529.1,544.5 L535.1,544.5 L535.1,543.0 L559.6,543.0"/>
<line class="n" x1="535.1" y1="544.5" x2="559.6" y2="544.5"/>
<path class="o" d="M529.1,577.9000000000001 L535.1,577.9000000000001 L535.1,579.4000000000001 L559.6,579.4000000000001"/>
<line class="n" x1="535.1" y1="577.5" x2="559.6" y2="577.5"/>
<path class="k2" d="M611.0,537.6 L559.1,537.6 Q555.1,537.6 555.1,541.6 L555.1,580.8000000000001 Q555.1,584.6 559.1,584.6 L611.0,584.6"/>
<path class="o" d="M562.7,540.8000000000001 L603.7,540.8000000000001 Q606.7,540.8000000000001 606.7,543.8000000000001 L606.7,577.8000000000001 Q606.7,580.8000000000001 603.7,580.8000000000001 L562.7,580.8000000000001 Q559.7,580.8000000000001 559.7,577.8000000000001 L559.7,566.7 L562.1,566.7 L562.1,555.7 L559.7,555.7 L559.7,543.8000000000001 Q559.7,540.8000000000001 562.7,540.8000000000001 Z"/>
<circle class="o" cx="581.1" cy="561.2" r="4.3"/>
<circle class="sf" cx="581.1" cy="561.2" r="1.6"/>
<line class="n" x1="579.1" y1="561.5" x2="583.1" y2="561.5"/>
<line class="n" x1="581.5" y1="559.2" x2="581.5" y2="563.2"/>
<line class="o" x1="611.5" y1="522.5" x2="611.5" y2="600.2"/>
<rect class="o" x="618.5" y="522.5" width="111" height="78"/>
<line class="o" x1="611.5" y1="522.5" x2="618.3" y2="522.5"/>
<line class="o" x1="611.5" y1="600.5" x2="618.3" y2="600.5"/>
<circle class="o" cx="639.1" cy="530.7" r="7"/>
<circle class="o" cx="639.1" cy="530.7" r="4.1"/>
<line class="d" x1="629.1" y1="530.5" x2="649.1" y2="530.5"/>
<line class="d" x1="639.5" y1="520.7" x2="639.5" y2="540.7"/>
<circle class="o" cx="691.7" cy="530.7" r="7"/>
<circle class="o" cx="691.7" cy="530.7" r="4.1"/>
<line class="d" x1="681.7" y1="530.5" x2="701.7" y2="530.5"/>
<line class="d" x1="691.5" y1="520.7" x2="691.5" y2="540.7"/>
<circle class="o" cx="639.1" cy="591.7" r="7"/>
<circle class="o" cx="639.1" cy="591.7" r="4.1"/>
<line class="d" x1="629.1" y1="591.5" x2="649.1" y2="591.5"/>
<line class="d" x1="639.5" y1="581.7" x2="639.5" y2="601.7"/>
<circle class="o" cx="691.7" cy="591.7" r="7"/>
<circle class="o" cx="691.7" cy="591.7" r="4.1"/>
<line class="d" x1="681.7" y1="591.5" x2="701.7" y2="591.5"/>
<line class="d" x1="691.5" y1="581.7" x2="691.5" y2="601.7"/>
<circle class="o" cx="670.2" cy="561.2" r="22.4"/>
<circle class="o" cx="670.2" cy="561.2" r="13.2"/>
<circle class="n" cx="670.2" cy="561.2" r="11.4"/>
<circle class="hf" cx="670.2" cy="561.2" r="5.9"/>
<line class="n" x1="667.5" y1="556.2" x2="667.5" y2="566.2"/>
<line class="n" x1="669.5" y1="556.2" x2="669.5" y2="566.2"/>
<line class="n" x1="671.5" y1="556.2" x2="671.5" y2="566.2"/>
<line class="n" x1="673.5" y1="556.2" x2="673.5" y2="566.2"/>
<line class="d" x1="670.5" y1="512" x2="670.5" y2="642"/>
<rect class="k2" x="729.5" y="540.5" width="21" height="41" rx="1.2"/>
<line class="k2" x1="729.6" y1="561.5" x2="750.4" y2="561.5"/>
<path class="k2" d="M729.6,540.9 Q733.2,551.0 729.6,561.1"/>
<path class="k2" d="M750.4,540.9 Q746.8,551.0 750.4,561.1"/>
<path class="k2" d="M729.6,561.6999999999999 Q733.2,571.5 729.6,581.3000000000001"/>
<path class="k2" d="M750.4,561.6999999999999 Q746.8,571.5 750.4,581.3000000000001"/>
<path class="k2" d="M729.6,548.2 L735.5,548.2 L735.5,573 L729.6,573"/>
<line class="d" x1="691.5" y1="517" x2="691.5" y2="530.7"/>
<line class="d" x1="697" y1="530.5" x2="772.5" y2="530.5"/>
<line class="d" x1="697" y1="591.5" x2="772.5" y2="591.5"/>
<line class="d" x1="768.5" y1="530.7" x2="768.5" y2="591.7"/>
<polygon class="a" points="768.7,530.7 766.55,541.5 770.85,541.5"/>
<polygon class="a" points="768.7,591.7 766.55,580.9 770.85,580.9"/>
<text class="tb" x="767" y="561.4" text-anchor="middle" transform="rotate(-90 767 561.4)">36</text>
<line class="d" x1="639.5" y1="597" x2="639.5" y2="619.5"/>
<line class="d" x1="691.5" y1="597" x2="691.5" y2="619.5"/>
<line class="d" x1="639.1" y1="617.5" x2="670.2" y2="617.5"/>
<polygon class="a" points="639.1,617.5 649.9,615.35 649.9,619.65"/>
<polygon class="a" points="670.2,617.5 659.4,615.35 659.4,619.65"/>
<text class="t2" x="653.5" y="613" text-anchor="middle">18. 5</text>
<line class="d" x1="691.7" y1="617.5" x2="722.5" y2="617.5"/>
<polygon class="a" points="691.7,617.5 702.5,615.35 702.5,619.65"/>
<text class="t2" x="709.5" y="614.5" text-anchor="middle">12. 5</text>
<line class="d" x1="618.5" y1="600.2" x2="618.5" y2="641"/>
<line class="d" x1="729.5" y1="600.2" x2="729.5" y2="672"/>
<line class="d" x1="750.5" y1="582" x2="750.5" y2="672"/>
<line class="d" x1="611.5" y1="600.2" x2="611.5" y2="668"/>
<line class="d" x1="618.3" y1="635.5" x2="729.6" y2="635.5"/>
<polygon class="a" points="618.3,635.3 629.1,633.15 629.1,637.45"/>
<polygon class="a" points="729.6,635.3 718.8,633.15 718.8,637.45"/>
<text class="t2" x="669.7" y="631.3" text-anchor="middle">65</text>
<line class="d" x1="611.5" y1="660.5" x2="729.6" y2="660.5"/>
<polygon class="a" points="611.5,660.1 622.3,657.95 622.3,662.25"/>
<polygon class="a" points="729.6,660.1 718.8,657.95 718.8,662.25"/>
<text class="t2" x="669" y="658" text-anchor="middle">69. 5</text>
<line class="d" x1="729.6" y1="660.5" x2="779" y2="660.5"/>
<polygon class="a" points="750.4,660.1 761.2,657.95 761.2,662.25"/>
<text class="t2" x="763.3" y="654.8" text-anchor="middle">11. 5</text>
<line class="d" x1="474.5" y1="583" x2="474.5" y2="644.5"/>
<line class="d" x1="474.3" y1="635.5" x2="611.5" y2="635.5"/>
<polygon class="a" points="474.3,635 485.1,632.85 485.1,637.15"/>
<polygon class="a" points="611.5,635 600.7,632.85 600.7,637.15"/>
<text class="t2" x="542.5" y="630" text-anchor="middle">80</text>
<line class="d" x1="433.5" y1="417" x2="433.5" y2="662"/>
<line class="d" x1="433" y1="659.5" x2="611.5" y2="659.5"/>
<polygon class="a" points="433,659.3 443.8,657.15 443.8,661.45"/>
<polygon class="a" points="611.5,659.3 600.7,657.15 600.7,661.45"/>
<text class="t2" x="517.5" y="656.8" text-anchor="middle">120max</text>
<line class="e2" x1="652.5" y1="640.7" x2="656.1" y2="640.7"/>
<line class="e2" x1="652.5" y1="642.9" x2="656.1" y2="642.9"/>
<line class="e2" x1="685" y1="640.7" x2="688.6" y2="640.7"/>
<line class="e2" x1="685" y1="642.9" x2="688.6" y2="642.9"/>
</svg>
</body></html>
